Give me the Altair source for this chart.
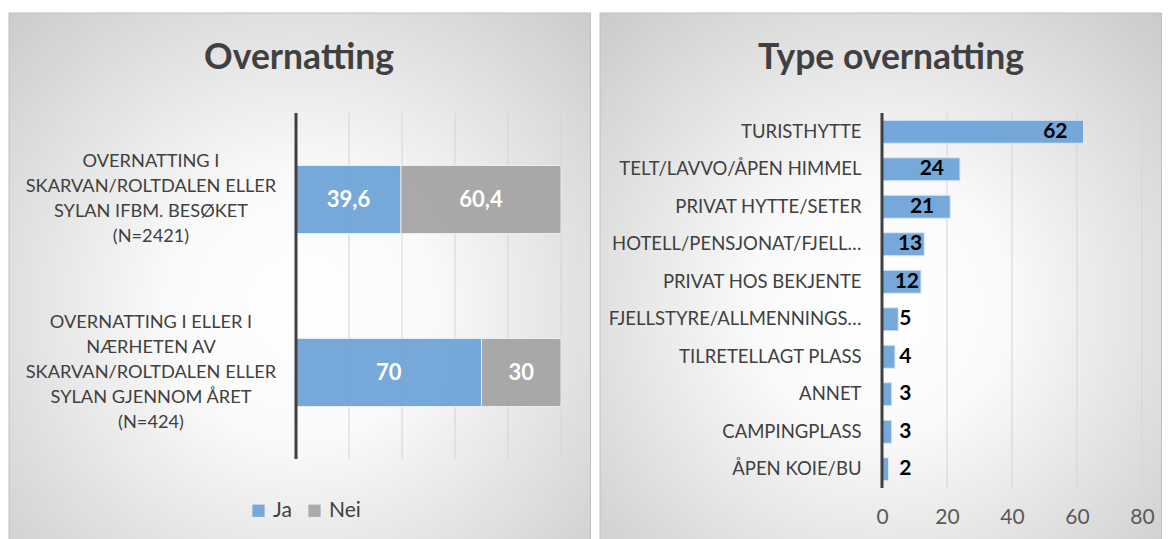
import altair as alt
import pandas as pd

# ---------------- data ----------------
left_categories = [
    "OVERNATTING I|SKARVAN/ROLTDALEN ELLER|SYLAN IFBM. BESØKET|(N=2421)",
    "OVERNATTING I ELLER I|NÆRHETEN AV|SKARVAN/ROLTDALEN ELLER|SYLAN GJENNOM ÅRET|(N=424)",
]
answers = ["Ja", "Nei"]
ja_values = [39.6, 70]
nei_values = [60.4, 30]
left_ticks = [0, 20, 40, 60, 80, 100]

right_categories = [
    "TURISTHYTTE",
    "TELT/LAVVO/ÅPEN HIMMEL",
    "PRIVAT HYTTE/SETER",
    "HOTELL/PENSJONAT/FJELL…",
    "PRIVAT HOS BEKJENTE",
    "FJELLSTYRE/ALLMENNINGS…",
    "TILRETELLAGT PLASS",
    "ANNET",
    "CAMPINGPLASS",
    "ÅPEN KOIE/BU",
]
right_values = [62, 24, 21, 13, 12, 5, 4, 3, 3, 2]
right_ticks = [0, 20, 40, 60, 80]

FONT = "Lato"
BLUE = "#6fa5d9"
GREY = "#a5a5a5"
TXT = "#404040"
LINE_H = 25

gradient = {
    "gradient": "radial",
    "x1": 0.5, "y1": 0.55, "r1": 0,
    "x2": 0.5, "y2": 0.55, "r2": 0.75,
    "stops": [
        {"offset": 0, "color": "#ffffff"},
        {"offset": 0.3, "color": "#fafafa"},
        {"offset": 1, "color": "#c8c8c8"},
    ],
}

one = pd.DataFrame({"a": [0]})

# ---------------- left chart ----------------
rows = []
for c, j, n in zip(left_categories, ja_values, nei_values):
    rows.append({"cat": c, "svar": answers[0], "v": j, "ord": 0})
    rows.append({"cat": c, "svar": answers[1], "v": n, "ord": 1})
left_df = pd.DataFrame(rows)

LW, LH = 265, 346
lscale = alt.Scale(domain=[0, 100], nice=False, zero=True)
ly = alt.Y("cat:N", sort=left_categories,
           scale=alt.Scale(paddingInner=0, paddingOuter=0), axis=None)

left_bg = alt.Chart(one).mark_rect(fill=gradient, stroke="#bfbfbf", strokeWidth=1).encode(
    x=alt.value(-287), x2=alt.value(294.5), y=alt.value(-100), y2=alt.value(430)
)
left_title = alt.Chart(one).mark_text(
    text="Overnatting", font=FONT, fontSize=35.5, fontWeight="bold", color=TXT,
    align="center", baseline="middle",
).encode(x=alt.value(3), y=alt.value(-55))

left_grid = alt.Chart(pd.DataFrame({"t": left_ticks})).mark_rule(
    color="#d4d4d4", strokeWidth=1
).encode(
    x=alt.X("t:Q", scale=lscale, axis=None),
    y=alt.value(0), y2=alt.value(LH),
)

stacked = alt.Chart(left_df).transform_stack(
    stack="v", groupby=["cat"], as_=["v0", "v1"],
    sort=[alt.SortField("ord", order="ascending")],
).transform_calculate(
    mid="(datum.v0 + datum.v1) / 2",
    lab="datum.v % 1 == 0 ? format(datum.v, 'd') : replace(format(datum.v, '.1f'), '.', ',')",
)

left_bars = stacked.mark_bar(size=68, stroke="#e8eef5", strokeWidth=1, opacity=0.95).encode(
    x=alt.X("v0:Q", scale=lscale, axis=None), x2="v1:Q", y=ly,
    color=alt.Color(
        "svar:N",
        scale=alt.Scale(domain=answers, range=[BLUE, GREY]),
        legend=alt.Legend(
            title=None, orient="none", direction="horizontal",
            legendX=-48, legendY=387,
            symbolType="square", symbolSize=150, symbolStrokeWidth=0,
            labelFont=FONT, labelFontSize=21, labelColor=TXT,
            columnPadding=12, labelOffset=4,
        ),
    ),
)
left_text = stacked.mark_text(
    font=FONT, fontSize=22, fontWeight="bold", color="white", align="center", baseline="middle"
).encode(x=alt.X("mid:Q", axis=None), y=ly, text="lab:N")

label_base = alt.Chart(pd.DataFrame({"cat": left_categories})).transform_calculate(
    nlines="length(split(datum.cat, '|'))"
)
left_label_layers = []
for n in (4, 5):
    left_label_layers.append(
        label_base.transform_filter(f"datum.nlines == {n}").mark_text(
            font=FONT, fontSize=18.2, color=TXT, align="center", baseline="middle",
            lineBreak="|", lineHeight=LINE_H, dy=-(n - 1) * LINE_H / 2,
        ).encode(x=alt.value(-145), y=ly, text="cat:N")
    )

left_domain = alt.Chart(one).mark_rule(color="#404040", strokeWidth=3).encode(
    x=alt.value(0), y=alt.value(0), y2=alt.value(LH)
)

left = alt.layer(
    left_bg, left_title, left_grid, left_bars, left_text, *left_label_layers, left_domain
).properties(width=LW, height=LH)

# ---------------- right chart ----------------
right_df = pd.DataFrame({"cat": right_categories, "v": right_values})
RW, RH = 260, 375
rscale = alt.Scale(domain=[0, 80], nice=False)
ry = alt.Y(
    "cat:N", sort=right_categories,
    scale=alt.Scale(paddingInner=0, paddingOuter=0),
    axis=alt.Axis(
        title=None, ticks=False, domain=False, grid=False,
        labelAlign="right", labelPadding=21,
        labelFont=FONT, labelFontSize=18.5, labelColor=TXT, labelLimit=400, zindex=1,
    ),
)
rx_axis = alt.Axis(
    title=None, values=right_ticks, ticks=False, domain=False, grid=False,
    labelFlush=False, labelOverlap=False,
    labelFont=FONT, labelFontSize=21, labelColor="#595959", labelPadding=18, zindex=1,
)

right_bg = alt.Chart(one).mark_rect(fill=gradient, stroke="#bfbfbf", strokeWidth=1).encode(
    x=alt.value(-282), x2=alt.value(279.5), y=alt.value(-100), y2=alt.value(430)
)
right_title = alt.Chart(one).mark_text(
    text="Type overnatting", font=FONT, fontSize=35.5, fontWeight="bold", color=TXT,
    align="center", baseline="middle",
).encode(x=alt.value(9), y=alt.value(-55))

right_grid = alt.Chart(pd.DataFrame({"t": right_ticks})).mark_rule(
    color="#d4d4d4", strokeWidth=1
).encode(
    x=alt.X("t:Q", scale=rscale, axis=rx_axis),
    y=alt.value(0), y2=alt.value(RH),
)

right_bars = alt.Chart(right_df).mark_bar(
    size=23, color=BLUE, stroke="#dbe8f5", strokeWidth=1, opacity=0.95
).encode(x=alt.X("v:Q", scale=rscale, axis=rx_axis), y=ry)

base_txt = alt.Chart(right_df).transform_calculate(pos="max(datum.v, 5)")
txt_kw = dict(font=FONT, fontSize=21, fontWeight="bold", color="black", baseline="middle")
right_text_big = base_txt.transform_filter("datum.v >= 20").mark_text(
    align="right", dx=-16, **txt_kw
).encode(x=alt.X("v:Q", scale=rscale, axis=rx_axis), y=ry, text="v:Q")
right_text_mid = base_txt.transform_filter("datum.v >= 10 && datum.v < 20").mark_text(
    align="right", dx=-2, **txt_kw
).encode(x=alt.X("v:Q", scale=rscale, axis=rx_axis), y=ry, text="v:Q")
right_text_small = base_txt.transform_filter("datum.v < 10").mark_text(
    align="left", dx=1, **txt_kw
).encode(x=alt.X("pos:Q", scale=rscale, axis=rx_axis), y=ry, text="v:Q")

right_domain = alt.Chart(one).mark_rule(color="#404040", strokeWidth=3).encode(
    x=alt.value(0), y=alt.value(0), y2=alt.value(RH)
)

right = alt.layer(
    right_bg, right_title, right_grid, right_bars,
    right_text_big, right_text_mid, right_text_small, right_domain,
).properties(width=RW, height=RH)

chart = alt.hconcat(left, right, spacing=8).properties(
    padding={"left": 0, "top": 4, "right": 0, "bottom": 0}
).configure_view(stroke=None)

chart.save("out.html", embed_options={"renderer": "svg", "actions": False})
